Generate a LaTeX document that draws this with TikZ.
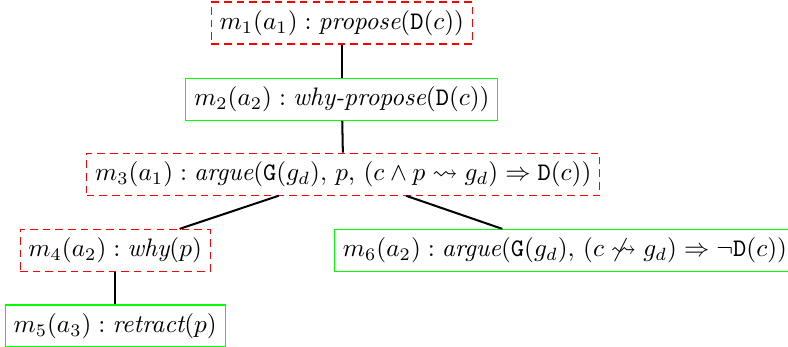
\documentclass[tikz,border=0pt]{standalone}
\usepackage{amsmath, amssymb}
\usepackage{tikz}
\usetikzlibrary{positioning}

\begin{document}
\begin{tikzpicture}[
    open/.style={rectangle, draw=red, dash pattern=on 3pt off 2pt, line width=0.45pt, inner sep=3.3pt},
    closed/.style={rectangle, draw=green, line width=0.45pt, inner sep=3.3pt},
    reply/.style={thick, black}
]

\useasboundingbox (0,0) rectangle (10.95,-4.82);

% Moves
\node[open] (m1) at (4.75, -0.32) {$m_1(a_1) : \textit{propose}(\mathtt{D}(c))$};
\node[closed] (m2) at (4.75, -1.38) {$m_2(a_2) : \textit{why-propose}(\mathtt{D}(c))$};
\node[open] (m3) at (4.77, -2.42) {$m_3(a_1) : \textit{argue}(\mathtt{G}(g_d),\, p,\, (c \wedge p \rightsquigarrow g_d) \Rightarrow \mathtt{D}(c))$};
\node[open] (m4) at (1.60, -3.48) {$m_4(a_2) : \textit{why}(p)$};
\node[closed] (m5) at (1.60, -4.53) {$m_5(a_3) : \textit{retract}(p)$};
\node[closed] (m6) at (7.85, -3.48) {$m_6(a_2) : \textit{argue}(\mathtt{G}(g_d),\, (c \not\rightsquigarrow g_d) \Rightarrow \neg\mathtt{D}(c))$};

% Replies
\draw[reply] (m1) -- (m2);
\draw[reply] (m2) -- (m3);
\draw[reply] (m3) -- (m4);
\draw[reply] (m4) -- (m5);
\draw[reply] (m3) -- (m6);

\end{tikzpicture}
\end{document}
